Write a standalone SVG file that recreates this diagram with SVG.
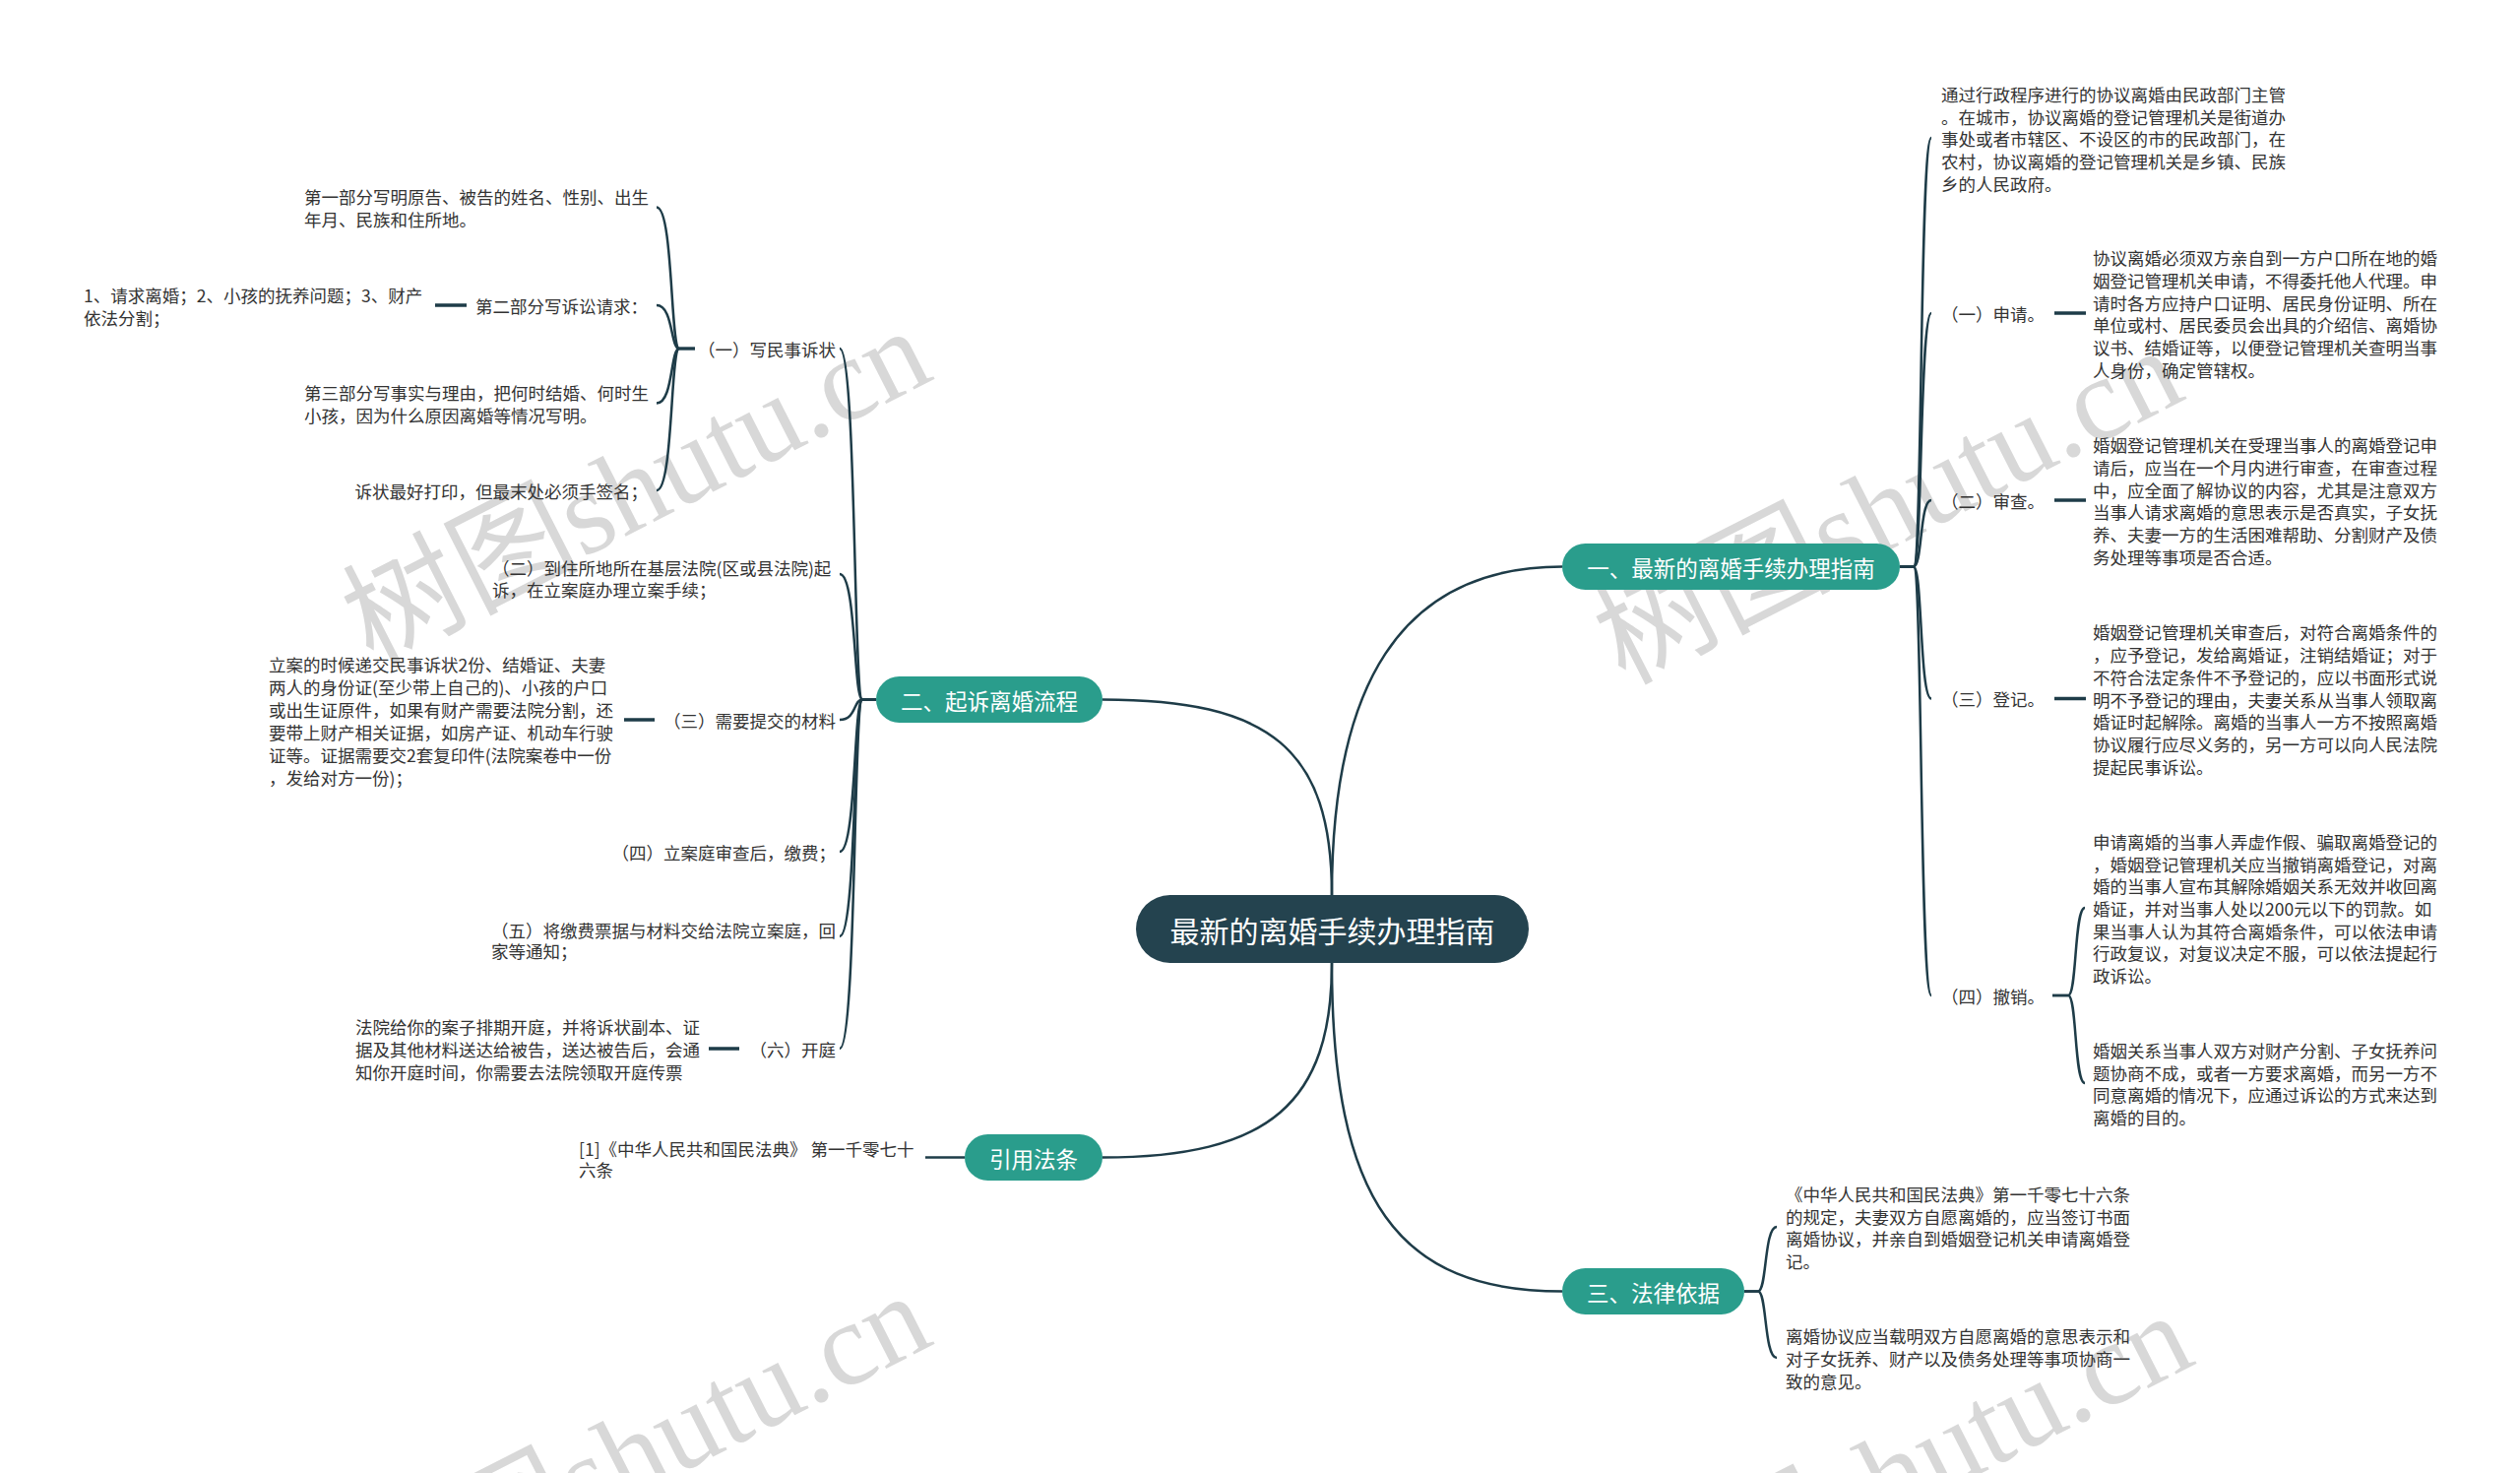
<svg xmlns="http://www.w3.org/2000/svg" width="2560" height="1496" viewBox="0 0 2560 1496">
<style>
.t{font-family:"Noto Sans CJK SC","Liberation Sans",sans-serif;font-size:17.5px;fill:#333;dominant-baseline:central}
.e{text-anchor:end}
.bt{font-family:"Noto Sans CJK SC","Liberation Sans",sans-serif;font-size:22.5px;fill:#fff;text-anchor:middle;dominant-baseline:central}
.ct{font-family:"Noto Sans CJK SC","Liberation Sans",sans-serif;font-size:30px;fill:#fff;text-anchor:middle;dominant-baseline:central}
.br{fill:#2a9d8c}
.c{fill:none;stroke:#1e3c48;stroke-width:2.5}
.s{fill:none;stroke:#1e3c48;stroke-width:3.5}
.wm{font-family:"Liberation Serif","Noto Sans CJK SC",serif;font-size:120px;fill:#d8d8d8}
</style>
<rect width="2560" height="1496" fill="#fff"/>
<g id="watermarks">
<text class="wm" x="378" y="676" transform="rotate(-27 378 676)">树图shutu.cn</text>
<text class="wm" x="1650" y="696" transform="rotate(-27 1650 696)">树图shutu.cn</text>
<text class="wm" x="378" y="1656" transform="rotate(-27 378 1656)">树图shutu.cn</text>
<text class="wm" x="1660" y="1676" transform="rotate(-27 1660 1676)">树图shutu.cn</text>
</g>
<g id="connectors">
<path class="c" d="M1353,909 C1353,700 1420,575.5 1587,575.5"/>
<path class="c" d="M1353,909 C1353,760 1290,710.5 1120,710.5"/>
<path class="c" d="M1353,978 C1353,1120 1290,1175.5 1120,1175.5"/>
<path class="c" d="M1353,978 C1353,1220 1420,1311.5 1587,1311.5"/>
<path class="c" d="M1930,575.5 H1944 C1953,575.5 1950,140 1962,140"/>
<path class="c" d="M1930,575.5 H1944 C1953,575.5 1950,318 1962,318"/>
<path class="c" d="M1930,575.5 H1944 C1953,575.5 1950,508 1962,508"/>
<path class="c" d="M1930,575.5 H1944 C1953,575.5 1950,709.5 1962,709.5"/>
<path class="c" d="M1930,575.5 H1944 C1953,575.5 1950,1011 1962,1011"/>
<path class="c" d="M890,710.5 H876 C867,710.5 870,354 853,354"/>
<path class="c" d="M890,710.5 H876 C867,710.5 870,583 853,583"/>
<path class="c" d="M890,710.5 H876 C867,710.5 870,731 853,731"/>
<path class="c" d="M890,710.5 H876 C867,710.5 870,865 853,865"/>
<path class="c" d="M890,710.5 H876 C867,710.5 870,951 853,951"/>
<path class="c" d="M890,710.5 H876 C867,710.5 870,1065 853,1065"/>
<path class="c" d="M706,354 H690 C681,354 684,210.5 667,210.5"/>
<path class="c" d="M706,354 H690 C681,354 684,310 667,310"/>
<path class="c" d="M706,354 H690 C681,354 684,409.5 667,409.5"/>
<path class="c" d="M706,354 H690 C681,354 684,498 667,498"/>
<path class="c" d="M2085,1011 H2101 C2110,1011 2107,922 2118,922"/>
<path class="c" d="M2085,1011 H2101 C2110,1011 2107,1100 2118,1100"/>
<path class="c" d="M1772,1311.5 H1786 C1795,1311.5 1792,1246 1805,1246"/>
<path class="c" d="M1772,1311.5 H1786 C1795,1311.5 1792,1379 1805,1379"/>
<path class="c" d="M940,1175.5 H980"/>
<path class="s" d="M442,310 H474"/>
<path class="s" d="M634,731 H665"/>
<path class="s" d="M720,1065 H751"/>
<path class="s" d="M2087,318 H2119"/>
<path class="s" d="M2087,508 H2119"/>
<path class="s" d="M2087,709.5 H2119"/>
</g>
<g id="root">
<rect x="1154" y="909" width="399" height="69" rx="34.5" fill="#24434f"/>
<text class="ct" x="1353.5" y="943.5">最新的离婚手续办理指南</text>
</g>
<g id="b1">
<rect class="br" x="1587" y="552" width="343" height="47" rx="23.5"/>
<text class="bt" x="1758.5" y="575.5">一、最新的离婚手续办理指南</text>
</g>
<g id="b2">
<rect class="br" x="890" y="687" width="230" height="47" rx="23.5"/>
<text class="bt" x="1005" y="710.5">二、起诉离婚流程</text>
</g>
<g id="b3">
<rect class="br" x="980" y="1152" width="140" height="47" rx="23.5"/>
<text class="bt" x="1050" y="1175.5">引用法条</text>
</g>
<g id="b4">
<rect class="br" x="1587" y="1288" width="185" height="47" rx="23.5"/>
<text class="bt" x="1679.5" y="1311.5">三、法律依据</text>
</g>
<g id="b2-1"><text class="t e" x="849" y="354">（一）写民事诉状</text></g>
<g id="b2-1-1"><text class="t"><tspan x="309" y="199">第一部分写明原告、被告的姓名、性别、出生</tspan><tspan x="309" y="222">年月、民族和住所地。</tspan></text></g>
<g id="b2-1-2"><text class="t e" x="658" y="310">第二部分写诉讼请求：</text></g>
<g id="b2-1-2-1"><text class="t"><tspan x="85" y="299">1、请求离婚；2、小孩的抚养问题；3、财产</tspan><tspan x="85" y="322">依法分割；</tspan></text></g>
<g id="b2-1-3"><text class="t"><tspan x="309" y="398">第三部分写事实与理由，把何时结婚、何时生</tspan><tspan x="309" y="421">小孩，因为什么原因离婚等情况写明。</tspan></text></g>
<g id="b2-1-4"><text class="t e" x="658" y="498">诉状最好打印，但最末处必须手签名；</text></g>
<g id="b2-2"><text class="t"><tspan x="500" y="576">（二）到住所地所在基层法院(区或县法院)起</tspan><tspan x="500" y="598">诉，在立案庭办理立案手续；</tspan></text></g>
<g id="b2-3"><text class="t e" x="849" y="731">（三）需要提交的材料</text></g>
<g id="b2-3-1"><text class="t"><tspan x="273" y="674">立案的时候递交民事诉状2份、结婚证、夫妻</tspan><tspan x="273" y="697">两人的身份证(至少带上自己的)、小孩的户口</tspan><tspan x="273" y="720">或出生证原件，如果有财产需要法院分割，还</tspan><tspan x="273" y="743">要带上财产相关证据，如房产证、机动车行驶</tspan><tspan x="273" y="766">证等。证据需要交2套复印件(法院案卷中一份</tspan><tspan x="273" y="789">，发给对方一份)；</tspan></text></g>
<g id="b2-4"><text class="t e" x="849" y="865">（四）立案庭审查后，缴费；</text></g>
<g id="b2-5"><text class="t"><tspan x="499" y="944">（五）将缴费票据与材料交给法院立案庭，回</tspan><tspan x="499" y="965">家等通知；</tspan></text></g>
<g id="b2-6"><text class="t e" x="849" y="1065">（六）开庭</text></g>
<g id="b2-6-1"><text class="t"><tspan x="361" y="1042">法院给你的案子排期开庭，并将诉状副本、证</tspan><tspan x="361" y="1065">据及其他材料送达给被告，送达被告后，会通</tspan><tspan x="361" y="1088">知你开庭时间，你需要去法院领取开庭传票</tspan></text></g>
<g id="b3-1"><text class="t"><tspan x="588" y="1166">[1]《中华人民共和国民法典》 第一千零七十</tspan><tspan x="588" y="1187">六条</tspan></text></g>
<g id="b1-0"><text class="t"><tspan x="1972" y="95">通过行政程序进行的协议离婚由民政部门主管</tspan><tspan x="1972" y="117.7">。在城市，协议离婚的登记管理机关是街道办</tspan><tspan x="1972" y="140.4">事处或者市辖区、不设区的市的民政部门，在</tspan><tspan x="1972" y="163.1">农村，协议离婚的登记管理机关是乡镇、民族</tspan><tspan x="1972" y="185.8">乡的人民政府。</tspan></text></g>
<g id="b1-1"><text class="t" x="1972" y="318">（一）申请。</text></g>
<g id="b1-1-1"><text class="t"><tspan x="2126" y="261.3">协议离婚必须双方亲自到一方户口所在地的婚</tspan><tspan x="2126" y="284">姻登记管理机关申请，不得委托他人代理。申</tspan><tspan x="2126" y="306.7">请时各方应持户口证明、居民身份证明、所在</tspan><tspan x="2126" y="329.4">单位或村、居民委员会出具的介绍信、离婚协</tspan><tspan x="2126" y="352.1">议书、结婚证等，以便登记管理机关查明当事</tspan><tspan x="2126" y="374.8">人身份，确定管辖权。</tspan></text></g>
<g id="b1-2"><text class="t" x="1972" y="508">（二）审查。</text></g>
<g id="b1-2-1"><text class="t"><tspan x="2126" y="451.3">婚姻登记管理机关在受理当事人的离婚登记申</tspan><tspan x="2126" y="474">请后，应当在一个月内进行审查，在审查过程</tspan><tspan x="2126" y="496.7">中，应全面了解协议的内容，尤其是注意双方</tspan><tspan x="2126" y="519.4">当事人请求离婚的意思表示是否真实，子女抚</tspan><tspan x="2126" y="542.1">养、夫妻一方的生活困难帮助、分割财产及债</tspan><tspan x="2126" y="564.8">务处理等事项是否合适。</tspan></text></g>
<g id="b1-3"><text class="t" x="1972" y="709.5">（三）登记。</text></g>
<g id="b1-3-1"><text class="t"><tspan x="2126" y="641.4">婚姻登记管理机关审查后，对符合离婚条件的</tspan><tspan x="2126" y="664.1">，应予登记，发给离婚证，注销结婚证；对于</tspan><tspan x="2126" y="686.8">不符合法定条件不予登记的，应以书面形式说</tspan><tspan x="2126" y="709.5">明不予登记的理由，夫妻关系从当事人领取离</tspan><tspan x="2126" y="732.2">婚证时起解除。离婚的当事人一方不按照离婚</tspan><tspan x="2126" y="754.9">协议履行应尽义务的，另一方可以向人民法院</tspan><tspan x="2126" y="777.6">提起民事诉讼。</tspan></text></g>
<g id="b1-4"><text class="t" x="1972" y="1011">（四）撤销。</text></g>
<g id="b1-4-1"><text class="t"><tspan x="2126" y="853.9">申请离婚的当事人弄虚作假、骗取离婚登记的</tspan><tspan x="2126" y="876.6">，婚姻登记管理机关应当撤销离婚登记，对离</tspan><tspan x="2126" y="899.3">婚的当事人宣布其解除婚姻关系无效并收回离</tspan><tspan x="2126" y="922">婚证，并对当事人处以200元以下的罚款。如</tspan><tspan x="2126" y="944.7">果当事人认为其符合离婚条件，可以依法申请</tspan><tspan x="2126" y="967.4">行政复议，对复议决定不服，可以依法提起行</tspan><tspan x="2126" y="990.1">政诉讼。</tspan></text></g>
<g id="b1-4-2"><text class="t"><tspan x="2126" y="1066">婚姻关系当事人双方对财产分割、子女抚养问</tspan><tspan x="2126" y="1088.7">题协商不成，或者一方要求离婚，而另一方不</tspan><tspan x="2126" y="1111.4">同意离婚的情况下，应通过诉讼的方式来达到</tspan><tspan x="2126" y="1134.1">离婚的目的。</tspan></text></g>
<g id="b4-1"><text class="t"><tspan x="1814" y="1212">《中华人民共和国民法典》第一千零七十六条</tspan><tspan x="1814" y="1234.7">的规定，夫妻双方自愿离婚的，应当签订书面</tspan><tspan x="1814" y="1257.4">离婚协议，并亲自到婚姻登记机关申请离婚登</tspan><tspan x="1814" y="1280.1">记。</tspan></text></g>
<g id="b4-2"><text class="t"><tspan x="1814" y="1356.3">离婚协议应当载明双方自愿离婚的意思表示和</tspan><tspan x="1814" y="1379">对子女抚养、财产以及债务处理等事项协商一</tspan><tspan x="1814" y="1401.7">致的意见。</tspan></text></g>
</svg>
